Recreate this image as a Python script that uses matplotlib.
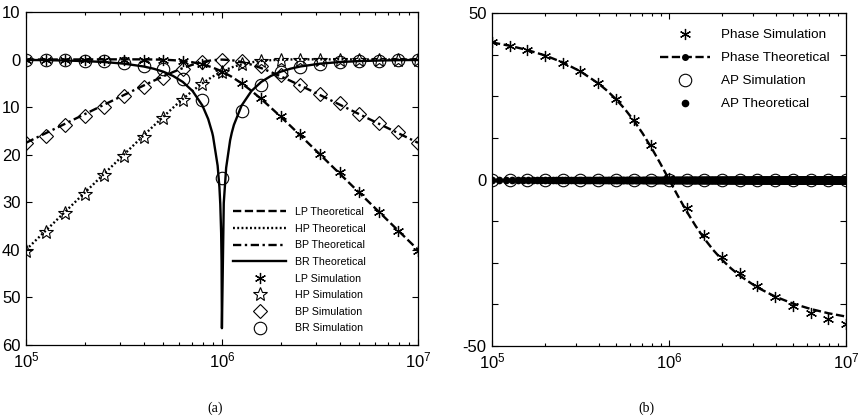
import numpy as np
import matplotlib
matplotlib.use("Agg")
import matplotlib.pyplot as plt
from matplotlib.lines import Line2D

plt.rcParams['font.family'] = ['Liberation Sans', 'DejaVu Sans']
plt.rcParams['mathtext.fontset'] = 'custom'
plt.rcParams['mathtext.rm'] = 'Liberation Sans'
plt.rcParams['mathtext.default'] = 'regular'

# theoretical grid (Hz) for LP / HP / BP / phase
freq_th = [1.0e5, 1.259e5, 1.585e5, 1.995e5, 2.512e5, 3.162e5, 3.981e5, 4.467e5,
           5.012e5, 5.623e5, 6.310e5, 7.079e5, 7.943e5, 8.913e5, 1.0e6, 1.122e6,
           1.259e6, 1.413e6, 1.585e6, 1.778e6, 1.995e6, 2.239e6, 2.512e6, 3.162e6,
           3.981e6, 5.012e6, 6.310e6, 7.943e6, 1.0e7]
lp_th = [0.01, 0.01, 0.02, 0.03, 0.04, 0.05, 0.04, 0.02, -0.03, -0.13, -0.29, -0.57,
         -1.00, -1.63, -2.50, -3.63, -5.00, -6.57, -8.29, -10.13, -12.03, -13.98,
         -15.96, -19.95, -23.96, -27.97, -31.98, -35.99, -39.99]
hp_th = lp_th[::-1]
bp_th = [-17.49, -15.49, -13.48, -11.47, -9.46, -7.45, -5.46, -4.48, -3.53, -2.63,
         -1.79, -1.07, -0.50, -0.13, 0.00, -0.13, -0.50, -1.07, -1.79, -2.63, -3.53,
         -4.48, -5.46, -7.45, -9.46, -11.47, -13.48, -15.49, -17.49]

# band-reject needs extra points around the notch
freq_br = [1.0e5, 1.259e5, 1.585e5, 1.995e5, 2.512e5, 3.162e5, 3.981e5, 4.467e5,
           5.012e5, 5.623e5, 6.310e5, 7.079e5, 7.943e5, 8.5e5, 8.913e5, 9.0e5, 9.5e5,
           9.7e5, 9.8e5, 9.9e5, 9.95e5, 9.99e5, 1.021e6, 1.05e6, 1.1e6, 1.122e6,
           1.15e6, 1.259e6, 1.413e6, 1.585e6, 1.778e6, 1.995e6, 2.239e6, 2.512e6,
           3.162e6, 3.981e6, 5.012e6, 6.310e6, 7.943e6, 1.0e7]
br_th = [-0.08, -0.12, -0.20, -0.32, -0.52, -0.86, -1.45, -1.91, -2.54, -3.43, -4.70,
         -6.61, -9.66, -12.48, -15.36, -16.12, -22.30, -26.81, -30.38, -36.44, -42.48,
         -56.47, -30.13, -22.75, -16.98, -15.36, -13.73, -9.66, -6.61, -4.70, -3.43,
         -2.54, -1.91, -1.45, -0.86, -0.52, -0.32, -0.20, -0.12, -0.08]

# simulation points
freq_sim = [1.0e5, 1.259e5, 1.585e5, 1.995e5, 2.512e5, 3.162e5, 3.981e5, 5.012e5,
            6.310e5, 7.943e5, 1.0e6, 1.259e6, 1.585e6, 1.995e6, 2.512e6, 3.162e6,
            3.981e6, 5.012e6, 6.310e6, 7.943e6, 1.0e7]
lp_sim = [0.0, 0.0, 0.0, 0.0, 0.0, 0.0, 0.0, -0.1, -0.3, -1.0, -2.6, -4.9, -8.1,
          -11.9, -15.7, -19.8, -23.7, -27.9, -32.0, -36.1, -40.2]
hp_sim = [-40.3, -36.3, -32.3, -28.3, -24.3, -20.2, -16.2, -12.2, -8.4, -5.1, -2.6,
          -1.0, -0.3, 0.0, 0.0, 0.0, 0.0, 0.0, 0.0, 0.0, 0.0]
bp_sim = [-17.6, -16.0, -13.8, -11.8, -9.9, -7.7, -5.7, -3.8, -2.0, -0.6, 0.0, -0.3,
          -1.4, -3.3, -5.3, -7.3, -9.2, -11.4, -13.3, -15.3, -17.6]
br_sim = [0.0, 0.0, -0.1, -0.2, -0.4, -0.8, -1.3, -2.0, -4.1, -8.6, -24.8, -10.9,
          -5.3, -2.6, -1.6, -0.9, -0.6, -0.3, -0.2, -0.1, -0.1]

phase_th = [41.16, 40.16, 38.88, 37.25, 35.16, 32.45, 28.88, 26.68, 24.13, 21.18,
            17.79, 13.93, 9.61, 4.91, 0.0, -4.91, -9.61, -13.93, -17.79, -21.18,
            -24.13, -26.68, -28.88, -32.45, -35.16, -37.25, -38.88, -40.16, -41.16]
phase_sim = [41.2, 40.0, 38.8, 37.0, 35.0, 32.5, 29.0, 24.2, 17.8, 10.5, 0.5, -8.5,
             -16.6, -23.3, -28.2, -32.0, -35.3, -38.0, -40.2, -42.0, -43.5]
ap_sim = [0.0] * len(freq_sim)

# AP theoretical: linear sweep 100 kHz .. 10 MHz, 10 kHz step, all 0
ap_sweep_start, ap_sweep_stop, ap_sweep_step = 1e5, 1e7, 1e4
ap_freq = np.arange(ap_sweep_start, ap_sweep_stop + 1, ap_sweep_step)
ap_th = np.zeros(len(ap_freq))

ylabels_a = ['60', '50', '40', '30', '20', '10', '0', '10']
yticks_b = [-50, -37.5, -25, -12.5, 0, 12.5, 25, 37.5, 50]
ylabels_b = ['-50', '', '', '', '0', '', '', '', '50']

asterisk = (6, 2, 0)
dash = (0, (3.5, 1.5))
dot = (0, (0.8, 1.0))
dashdot = (0, (3.5, 1.5, 1.0, 1.5))

fig = plt.figure(figsize=(8.62, 4.2), dpi=100)


def style_axes(ax):
    ax.set_xscale('log')
    ax.set_xlim(1e5, 1e7)
    ax.tick_params(which='both', direction='in', top=True, right=True,
                   labelsize=12, width=0.8)
    ax.tick_params(which='major', length=4, pad=4)
    ax.tick_params(which='minor', length=2.5)
    for s in ax.spines.values():
        s.set_linewidth(0.9)


## (a) magnitude
ax1 = fig.add_axes([26 / 862, 75 / 420, 392 / 862, 333 / 420])
style_axes(ax1)
ax1.plot(freq_th, lp_th, color='k', lw=1.7, ls=dash, label='LP Theoretical')
ax1.plot(freq_th, hp_th, color='k', lw=1.7, ls=dot, label='HP Theoretical')
ax1.plot(freq_th, bp_th, color='k', lw=1.7, ls=dashdot, label='BP Theoretical')
ax1.plot(freq_br, br_th, color='k', lw=1.7, ls='-', label='BR Theoretical')
ax1.plot(freq_sim, lp_sim, ls='none', marker=asterisk, ms=8, mew=0.9, color='k',
         label='LP Simulation')
ax1.plot(freq_sim, hp_sim, ls='none', marker='*', ms=10, mew=0.8, mfc='none',
         color='k', label='HP Simulation')
ax1.plot(freq_sim, bp_sim, ls='none', marker='D', ms=7, mew=0.8, mfc='none',
         color='k', label='BP Simulation')
ax1.plot(freq_sim, br_sim, ls='none', marker='o', ms=9, mew=0.8, mfc='none',
         color='k', label='BR Simulation')
ax1.set_ylim(-60, 10)
ax1.set_yticks(range(-60, 11, 10))
ax1.set_yticklabels(ylabels_a)
ax1.legend(loc='upper left', bbox_to_anchor=(233 / 862, 1 - 207 / 420),
           bbox_transform=fig.transFigure, frameon=False, fontsize=7.7,
           handlelength=5.0, handletextpad=0.8, labelspacing=0.62,
           borderpad=0, borderaxespad=0)

## (b) phase
ax2 = fig.add_axes([492 / 862, 74 / 420, 354 / 862, 333 / 420])
style_axes(ax2)
ax2.plot(freq_th, phase_th, color='k', lw=1.7, ls=dash)
ax2.plot(freq_sim, phase_sim, ls='none', marker=asterisk, ms=8, mew=0.9, color='k')
ax2.plot(freq_sim, ap_sim, ls='none', marker='o', ms=9, mew=0.8, mfc='none', color='k')
ax2.plot(ap_freq, ap_th, ls='none', marker='o', ms=4.5, color='k')
ax2.set_ylim(-50, 50)
ax2.set_yticks(yticks_b)
ax2.set_yticklabels(ylabels_b)
handles = [
    Line2D([], [], ls='none', marker=asterisk, ms=8, mew=0.9, color='k'),
    Line2D([], [], ls=dash, lw=1.7, marker='o', ms=4, color='k'),
    Line2D([], [], ls='none', marker='o', ms=9, mew=0.8, mfc='none', color='k'),
    Line2D([], [], ls='none', marker='o', ms=4.5, color='k'),
]
labels = ['Phase Simulation', 'Phase Theoretical', 'AP Simulation', 'AP Theoretical']
ax2.legend(handles, labels, loc='upper left', bbox_to_anchor=(660 / 862, 1 - 29 / 420),
           bbox_transform=fig.transFigure, frameon=False, fontsize=9.7,
           handlelength=3.7, handletextpad=0.8, labelspacing=0.78,
           borderpad=0, borderaxespad=0)

fig.text(215 / 862, 1 - 408 / 420, '(a)', family='Liberation Serif', fontsize=10,
         ha='center', va='center')
fig.text(646 / 862, 1 - 408 / 420, '(b)', family='Liberation Serif', fontsize=10,
         ha='center', va='center')

fig.savefig('out.png', dpi=100)
